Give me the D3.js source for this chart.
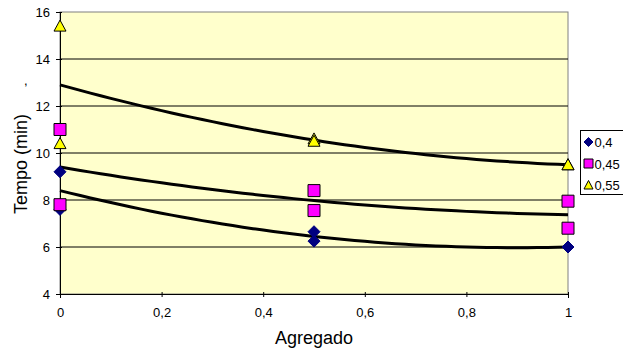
<!DOCTYPE html>
<html>
<head>
<meta charset="utf-8">
<script src="https://cdn.jsdelivr.net/npm/d3@7"></script>
<style>
  body { margin: 0; background: #fff; }
  text { font-family: "Liberation Sans", Arial, sans-serif; fill: #000; }
</style>
</head>
<body>
<div id="container"></div>
<script>
// values
var xs = [0, 0, 0.5, 0.5, 1, 1];
var s04 = [9.2, 7.6, 6.65, 6.25, 6.0, 6.0];
var s045 = [11.0, 7.8, 8.4, 7.55, 7.95, 6.8];
var s055 = [15.4, 10.4, 10.6, 10.5, 9.5, 9.5];
var seriesNames = ['0,4', '0,45', '0,55'];
var yTicks = [4, 6, 8, 10, 12, 14, 16];
var xTicks = [0, 0.2, 0.4, 0.6, 0.8, 1];

var W = 623, H = 353;
var margin = {left: 60, right: 55, top: 12, bottom: 59};

var svg = d3.select('#container').append('svg')
  .attr('width', W)
  .attr('height', H);

var x = d3.scaleLinear().domain([0, 1]).range([margin.left, W - margin.right]);
var y = d3.scaleLinear().domain([4, 16]).range([H - margin.bottom, margin.top]);

var fmt = function(v) { return String(v).replace('.', ','); };

// plot area
svg.append('rect')
  .attr('x', x(0)).attr('y', y(16))
  .attr('width', x(1) - x(0)).attr('height', y(4) - y(16))
  .attr('fill', '#ffffcc')
  .attr('stroke', '#808080');

svg.selectAll('.grid')
  .data(yTicks.filter(function(t) { return t > 4 && t < 16; }))
  .enter()
  .append('line')
  .attr('x1', x(0)).attr('x2', x(1))
  .attr('y1', function(d) { return y(d); })
  .attr('y2', function(d) { return y(d); })
  .attr('stroke', '#000')
  .attr('stroke-width', 1);

// axes
var yAxis = d3.axisLeft(y).tickValues(yTicks).tickSize(4).tickFormat(fmt);
var xAxis = d3.axisBottom(x).tickValues(xTicks).tickSize(4).tickFormat(fmt);

var gy = svg.append('g').attr('transform', 'translate(' + x(0) + ',0)').call(yAxis);
var gx = svg.append('g').attr('transform', 'translate(0,' + y(4) + ')').call(xAxis);
[gx, gy].forEach(function(g) {
  g.select('.domain').attr('stroke', '#000');
  g.selectAll('.tick line').attr('stroke', '#000');
  g.selectAll('text').style('font-family', '"Liberation Sans", Arial, sans-serif').style('font-size', '13px');
});
gx.selectAll('.tick line').attr('y1', -2).attr('y2', 3);
gx.selectAll('text').attr('y', 23).attr('dy', 0);
gy.selectAll('.tick line').attr('x1', 2).attr('x2', -4);
gy.selectAll('text').attr('x', -10);

// trendlines: 2nd order polynomial fit (through the means at each x)
function polyFit(ys) {
  var m0 = (ys[0] + ys[1]) / 2, m1 = (ys[2] + ys[3]) / 2, m2 = (ys[4] + ys[5]) / 2;
  var c = m0;
  var a = 2 * (m2 - 2 * m1 + m0);
  var b = m2 - m0 - a;
  return function(t) { return a * t * t + b * t + c; };
}
var line = d3.line()
  .x(function(d) { return x(d[0]); })
  .y(function(d) { return y(d[1]); });
var samples = d3.range(0, 1.0001, 0.02);
[s04, s045, s055].forEach(function(s) {
  var f = polyFit(s);
  svg.append('path')
    .attr('d', line(samples.map(function(t) { return [t, f(t)]; })))
    .attr('fill', 'none')
    .attr('stroke', '#000')
    .attr('stroke-width', 3);
});

// markers
var diamond = 'M0,-6L6,0L0,6L-6,0Z';
var square = 'M-6,-6H6V6H-6Z';
var triangle = 'M0,-6L6,5H-6Z';

function drawMarkers(vals, shape, fill, stroke) {
  svg.append('g').selectAll('path')
    .data(vals)
    .enter()
    .append('path')
    .attr('d', shape)
    .attr('transform', function(d, i) { return 'translate(' + x(xs[i]) + ',' + y(d) + ')'; })
    .attr('fill', fill)
    .attr('stroke', stroke)
    .attr('stroke-width', 1);
}
drawMarkers(s04, diamond, '#000080', '#000080');
drawMarkers(s045, square, '#ff00ff', '#000');
drawMarkers(s055, triangle, '#ffff00', '#000');

// axis titles
svg.append('text')
  .attr('transform', 'translate(27,' + ((y(4) + y(16)) / 2 + 11) + ') rotate(-90)')
  .attr('text-anchor', 'middle')
  .style('font-size', '18px')
  .text('Tempo (min)');
svg.append('text')
  .attr('x', (x(0) + x(1)) / 2)
  .attr('y', 344)
  .attr('text-anchor', 'middle')
  .style('font-size', '18px')
  .text('Agregado');
svg.append('text')
  .attr('x', 24).attr('y', 85)
  .style('font-size', '13px')
  .text(',');

// legend
var leg = svg.append('g').attr('transform', 'translate(580.5,130.5)');
leg.append('rect')
  .attr('width', 50).attr('height', 64)
  .attr('fill', '#fff').attr('stroke', '#000');
var legShapes = [
  {d: 'M0,-4.5L4.5,0L0,4.5L-4.5,0Z', fill: '#000080', stroke: '#000080'},
  {d: 'M-4.5,-4.5H4.5V4.5H-4.5Z', fill: '#ff00ff', stroke: '#000'},
  {d: 'M0,-4.5L4.5,4H-4.5Z', fill: '#ffff00', stroke: '#000'}
];
seriesNames.forEach(function(name, i) {
  var g = leg.append('g').attr('transform', 'translate(0,' + (11.5 + i * 21.5) + ')');
  g.append('path')
    .attr('d', legShapes[i].d)
    .attr('transform', 'translate(8,0)')
    .attr('fill', legShapes[i].fill)
    .attr('stroke', legShapes[i].stroke);
  g.append('text')
    .attr('x', 14).attr('y', 5)
    .style('font-size', '13px')
    .text(name);
});
</script>
</body>
</html>
